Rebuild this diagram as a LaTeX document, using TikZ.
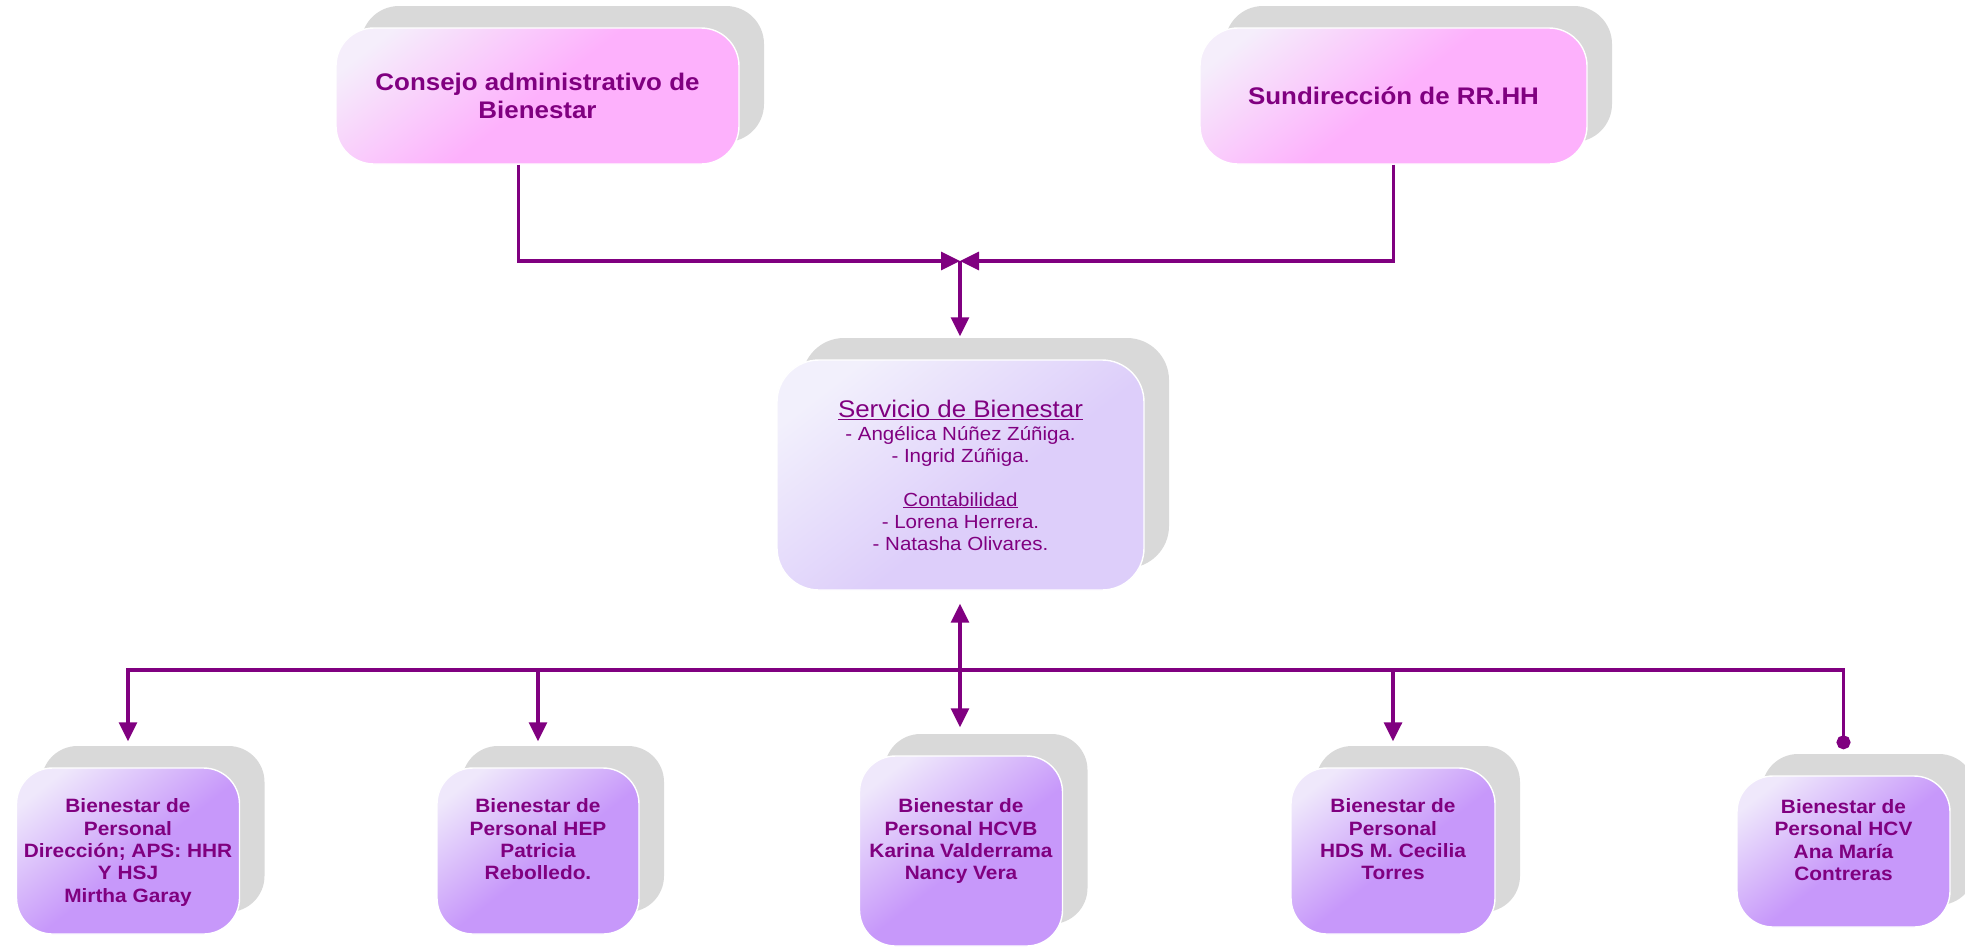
\documentclass[tikz,border=0pt]{standalone}
\usepackage{fontspec}
\setmainfont{Liberation Sans}[FakeStretch=1.08]
\usetikzlibrary{arrows.meta,shadows}

\definecolor{plum}{RGB}{128,0,128}
\definecolor{shadowgray}{RGB}{217,217,217}
\definecolor{pinkMain}{RGB}{253,177,252}
\definecolor{pinkLight}{RGB}{245,238,251}
\definecolor{lilacMain}{RGB}{221,206,250}
\definecolor{lilacLight}{RGB}{242,240,252}
\definecolor{violetMain}{RGB}{199,152,250}
\definecolor{violetLight}{RGB}{239,232,251}

% diagonal fills: light in the upper left corner, full colour elsewhere
\pgfdeclareverticalshading{pinkfill}{100bp}{color(0bp)=(pinkMain); color(50bp)=(pinkMain); color(78bp)=(pinkLight); color(100bp)=(pinkLight)}
\pgfdeclareverticalshading{lilacfill}{100bp}{color(0bp)=(lilacMain); color(44bp)=(lilacMain); color(76bp)=(lilacLight); color(100bp)=(lilacLight)}
\pgfdeclareverticalshading{violetfill}{100bp}{color(0bp)=(violetMain); color(47bp)=(violetMain); color(77bp)=(violetLight); color(100bp)=(violetLight)}

% bottom boxes: fixed-height, top-aligned text block
\newcommand\unitlines[2]{\parbox[c][104pt][t]{#1}{\centering #2}}

\tikzset{
  box/.style={rounded corners=38pt, draw=white, line width=1.4pt, inner sep=0pt,
    text=plum, shade, shading angle=38,
    general shadow={fill=shadowgray, shadow xshift=25pt, shadow yshift=22pt}},
  headbox/.style={box, shading=pinkfill, align=center,
    font=\bfseries\fontsize{24}{28}\selectfont},
  servbox/.style={box, rounded corners=42pt, shading=lilacfill, align=center,
    font=\fontsize{19}{22}\selectfont},
  unitbox/.style={box, rounded corners=36pt, shading=violetfill,
    font=\bfseries\fontsize{19.3}{22.3}\selectfont},
  link/.style={draw=plum, line width=3.2pt},
  tip/.style={-{Triangle[length=19pt,width=18pt]}},
  dot/.style={-{Circle[length=14pt]}}
}

\begin{document}
\begin{tikzpicture}[x=1pt, y=-1pt]
\useasboundingbox (0,0) rectangle (1965,946);

% upper level
\node[headbox, minimum width=403pt, minimum height=136pt] (cons) at (537.5,96)
  {Consejo administrativo de\\Bienestar};
\node[headbox, minimum width=387pt, minimum height=136pt] (sund) at (1393.5,96)
  {Sundirección de RR.HH};

% central service
\node[servbox, minimum width=367pt, minimum height=230pt] (serv) at (960.5,475)
  {{\fontsize{24}{22}\selectfont\underline{Servicio de Bienestar}}\\[1pt]
   - Angélica Núñez Zúñiga.\\
   - Ingrid Zúñiga.\\[22pt]
   \underline{Contabilidad}\\
   - Lorena Herrera.\\
   - Natasha Olivares.};

% units
\node[unitbox, minimum width=223pt, minimum height=166pt] (b1) at (128,851)
  {\unitlines{219pt}{Bienestar de\\Personal\\Dirección; APS: HHR\\Y HSJ\\Mirtha Garay}};
\node[unitbox, minimum width=202pt, minimum height=166pt] (b2) at (538,851)
  {\unitlines{198pt}{Bienestar de\\Personal HEP\\Patricia\\Rebolledo.}};
\node[unitbox, minimum width=203pt, minimum height=190pt] (b3) at (961,851)
  {\unitlines{199pt}{Bienestar de\\Personal HCVB\\Karina Valderrama\\Nancy Vera}};
\node[unitbox, minimum width=204pt, minimum height=166pt] (b4) at (1393,851)
  {\unitlines{200pt}{Bienestar de\\Personal\\HDS M. Cecilia\\Torres}};
\node[unitbox, minimum width=213pt, minimum height=151pt] (b5) at (1843.5,851.5)
  {\unitlines{209pt}{Bienestar de\\Personal HCV\\Ana María\\Contreras}};

% junctions
\coordinate (hub) at (960,261);
\coordinate (bus) at (960,670);

% top connectors
\draw[link, tip] ([xshift=-19pt]cons.south) |- (hub);
\draw[link, tip] (sund.south) |- (hub);
\draw[link, tip] (hub) -- ([yshift=23pt]serv.north -| hub);

% distribution bus
\draw[link, dot] ([xshift=-2pt]b1.north |- bus) -- (b5.north |- bus) -- ([yshift=26pt]b5.north);
\draw[link, tip] (b1.north |- bus) -- ([yshift=26pt]b1.north);
\draw[link, tip] (b2.north |- bus) -- ([yshift=26pt]b2.north);
\draw[link, tip] (b4.north |- bus) -- ([yshift=26pt]b4.north);
\draw[link, {Triangle[length=19pt,width=18pt]}-{Triangle[length=19pt,width=18pt]}]
  ([yshift=-13pt]serv.south -| hub) -- ([yshift=28pt]b3.north -| hub);
\end{tikzpicture}
\end{document}
